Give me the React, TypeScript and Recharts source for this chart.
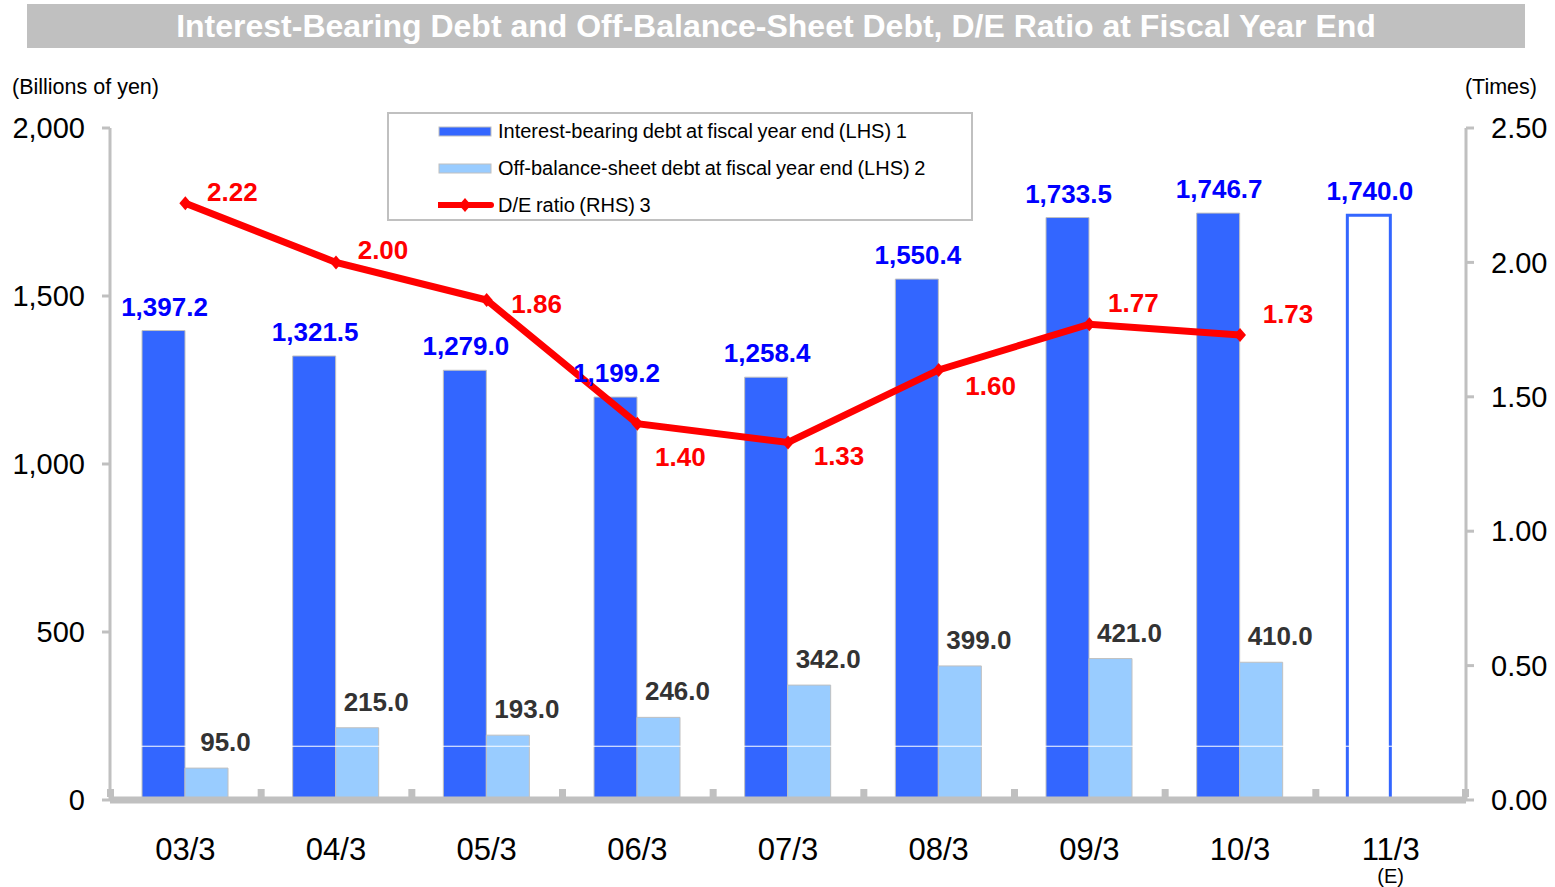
import React from 'react';
import {
  ComposedChart,
  Bar,
  Line,
  XAxis,
  YAxis,
  Cell,
  LabelList,
  Legend,
  ReferenceLine,
} from 'recharts';

// Fiscal years (March year end)
const categories = ['03/3', '04/3', '05/3', '06/3', '07/3', '08/3', '09/3', '10/3', '11/3'];
const categoryNotes = ['', '', '', '', '', '', '', '', '(E)'];
// Interest-bearing debt (billions of yen), last one is the estimate
const interestBearingDebt = [1397.2, 1321.5, 1279.0, 1199.2, 1258.4, 1550.4, 1733.5, 1746.7, 1740.0];
const offBalanceDebt = [95.0, 215.0, 193.0, 246.0, 342.0, 399.0, 421.0, 410.0, null];
const deRatio = [2.22, 2.0, 1.86, 1.4, 1.33, 1.6, 1.77, 1.73, null];
const leftTicks = [0, 500, 1000, 1500, 2000];
const rightTicks = [0, 0.5, 1, 1.5, 2, 2.5];

// label placement for the D/E ratio values (style only)
const ratioLabelDx = [47, 47, 50, 43, 51, 52, 44, 48];
const ratioLabelDy = [-11, -12, 4, 33, 14, 16, -21, -21];

const FONT = '"Liberation Sans", Arial, Helvetica, sans-serif';
const DARK_BLUE = '#3366FF';
const LIGHT_BLUE = '#99CCFF';
const RED = '#FF0000';
const GRAY = '#C0C0C0';

const CHART_W = 1555;
const CHART_H = 887;
const PLOT_LEFT = 110;
const PLOT_RIGHT = 1466;
const BAND = (PLOT_RIGHT - PLOT_LEFT) / categories.length;

const data = categories.map((period, i) => ({
  period,
  note: categoryNotes[i],
  debt: interestBearingDebt[i],
  offBalance: offBalanceDebt[i],
  de: deRatio[i],
}));

const isEstimate = (i: number) => categoryNotes[i] === '(E)';

const fmtAmount = (v: number) =>
  v.toLocaleString('en-US', { minimumFractionDigits: 1, maximumFractionDigits: 1 });

// X tick: category label, optional note, and the small stubs on the axis between categories
const XTick = (props: any) => {
  const { x, y, payload, index } = props;
  const half = BAND / 2;
  const last = index === categories.length - 1;
  return (
    <g>
      <rect x={x - half - 3} y={y - 11} width={7} height={8} fill={GRAY} />
      {last && <rect x={x + half - 4} y={y - 11} width={7} height={8} fill={GRAY} />}
      <text x={x} y={y + 60} textAnchor="middle" fontSize={31} fontFamily={FONT} fill="#000">
        {payload.value}
      </text>
      {categoryNotes[index] && (
        <text x={x} y={y + 83} textAnchor="middle" fontSize={20} fontFamily={FONT} fill="#000">
          {categoryNotes[index]}
        </text>
      )}
    </g>
  );
};

const DebtLabel = (props: any) => {
  const { x, y, width, value } = props;
  if (value == null) return null;
  return (
    <text
      x={x + width / 2 + 1}
      y={y - 15}
      textAnchor="middle"
      fontSize={26}
      fontWeight="bold"
      fontFamily={FONT}
      fill="#0000FF"
    >
      {fmtAmount(value)}
    </text>
  );
};

const OffBalanceLabel = (props: any) => {
  const { x, y, width, value } = props;
  if (value == null) return null;
  return (
    <text
      x={x + width / 2 + 19}
      y={y - 17}
      textAnchor="middle"
      fontSize={26}
      fontWeight="bold"
      fontFamily={FONT}
      fill="#333333"
    >
      {fmtAmount(value)}
    </text>
  );
};

const RatioLabel = (props: any) => {
  const { x, y, value, index } = props;
  if (value == null) return null;
  return (
    <text
      x={x + ratioLabelDx[index]}
      y={y + ratioLabelDy[index] + 9}
      textAnchor="middle"
      fontSize={26}
      fontWeight="bold"
      fontFamily={FONT}
      fill={RED}
    >
      {Number(value).toFixed(2)}
    </text>
  );
};

const Diamond = (props: any) => {
  const { cx, cy } = props;
  if (cx == null || cy == null) return null;
  return <polygon points={`${cx},${cy - 7} ${cx + 6},${cy} ${cx},${cy + 7} ${cx - 6},${cy}`} fill={RED} />;
};

const LegendBox = () => {
  const rows = [
    { label: 'Interest-bearing debt at fiscal year end (LHS) 1', kind: 'bar', color: DARK_BLUE },
    { label: 'Off-balance-sheet debt at fiscal year end (LHS) 2', kind: 'bar', color: LIGHT_BLUE },
    { label: 'D/E ratio (RHS) 3', kind: 'line', color: RED },
  ];
  return (
    <div
      style={{
        width: 586,
        height: 109,
        boxSizing: 'border-box',
        border: `2px solid ${GRAY}`,
        background: '#fff',
        position: 'relative',
        fontFamily: FONT,
        fontSize: 20,
        color: '#000',
      }}
    >
      {rows.map((r, i) => (
        <div key={r.label} style={{ position: 'absolute', left: 49, top: 4 + i * 37, height: 26, display: 'flex', alignItems: 'center' }}>
          <svg width={56} height={16} style={{ display: 'block' }}>
            {r.kind === 'bar' ? (
              <rect x={1} y={4} width={52} height={9} fill={r.color} stroke={GRAY} strokeWidth={1} />
            ) : (
              <g>
                <line x1={1} y1={8} x2={53} y2={8} stroke={r.color} strokeWidth={6} strokeLinecap="round" />
                <polygon points="27,1 33,8 27,15 21,8" fill={r.color} />
              </g>
            )}
          </svg>
          <span style={{ marginLeft: 4, wordSpacing: -1, whiteSpace: 'nowrap' }}>{r.label}</span>
        </div>
      ))}
    </div>
  );
};

const App: React.FC = () => {
  return (
    <div style={{ position: 'absolute', left: 0, top: 0, width: CHART_W, height: CHART_H, background: '#fff', fontFamily: FONT }}>
      {/* Title bar */}
      <div
        style={{
          position: 'absolute',
          left: 27,
          top: 4,
          width: 1498,
          height: 44,
          background: GRAY,
          color: '#fff',
          fontWeight: 'bold',
          fontSize: 32,
          lineHeight: '44px',
          textAlign: 'center',
        }}
      >
        Interest-Bearing Debt and Off-Balance-Sheet Debt, D/E Ratio at Fiscal Year End
      </div>
      <div style={{ position: 'absolute', left: 12, top: 75, fontSize: 21.5 }}>(Billions of yen)</div>
      <div style={{ position: 'absolute', right: CHART_W - 1537, top: 75, fontSize: 21.5 }}>(Times)</div>

      <ComposedChart
        width={CHART_W}
        height={CHART_H}
        data={data}
        margin={{ top: 128, right: 9, bottom: 7, left: 10 }}
        barGap={0}
        barSize={43}
      >
        <XAxis
          dataKey="period"
          height={80}
          interval={0}
          tickSize={0}
          tickMargin={0}
          tickLine={false}
          axisLine={{ stroke: GRAY, strokeWidth: 7 }}
          tick={<XTick />}
        />
        <YAxis
          yAxisId="left"
          width={100}
          domain={[0, 2000]}
          ticks={leftTicks}
          interval={0}
          tickSize={8}
          tickMargin={17}
          tickFormatter={(v: number) => v.toLocaleString('en-US')}
          axisLine={{ stroke: GRAY, strokeWidth: 3 }}
          tickLine={{ stroke: GRAY, strokeWidth: 3 }}
          tick={{ fontSize: 29, fill: '#000', fontFamily: FONT }}
        />
        <YAxis
          yAxisId="right"
          orientation="right"
          width={80}
          domain={[0, 2.5]}
          ticks={rightTicks}
          interval={0}
          tickSize={8}
          tickMargin={17}
          tickFormatter={(v: number) => v.toFixed(2)}
          axisLine={{ stroke: GRAY, strokeWidth: 3 }}
          tickLine={{ stroke: GRAY, strokeWidth: 3 }}
          tick={{ fontSize: 29, fill: '#000', fontFamily: FONT }}
        />
        <Legend
          layout="vertical"
          align="center"
          verticalAlign="middle"
          content={<LegendBox />}
          wrapperStyle={{ left: 387, top: 112, width: 586, height: 109 }}
        />

        <Bar yAxisId="left" dataKey="debt" fill={DARK_BLUE} stroke={GRAY} strokeWidth={1} isAnimationActive={false}>
          {data.map((d, i) =>
            isEstimate(i) ? (
              <Cell key={d.period} fill="#fff" stroke={DARK_BLUE} strokeWidth={3} />
            ) : (
              <Cell key={d.period} fill={DARK_BLUE} stroke={GRAY} strokeWidth={1} />
            )
          )}
          <LabelList dataKey="debt" content={<DebtLabel />} />
        </Bar>
        <Bar yAxisId="left" dataKey="offBalance" fill={LIGHT_BLUE} stroke={GRAY} strokeWidth={1} isAnimationActive={false}>
          <LabelList dataKey="offBalance" content={<OffBalanceLabel />} />
        </Bar>

        <ReferenceLine yAxisId="left" y={160} stroke="#fff" strokeWidth={1} />

        <Line
          yAxisId="right"
          dataKey="de"
          stroke={RED}
          strokeWidth={7}
          dot={<Diamond />}
          activeDot={false}
          isAnimationActive={false}
        >
          <LabelList dataKey="de" content={<RatioLabel />} />
        </Line>
      </ComposedChart>
    </div>
  );
};

export default App;
